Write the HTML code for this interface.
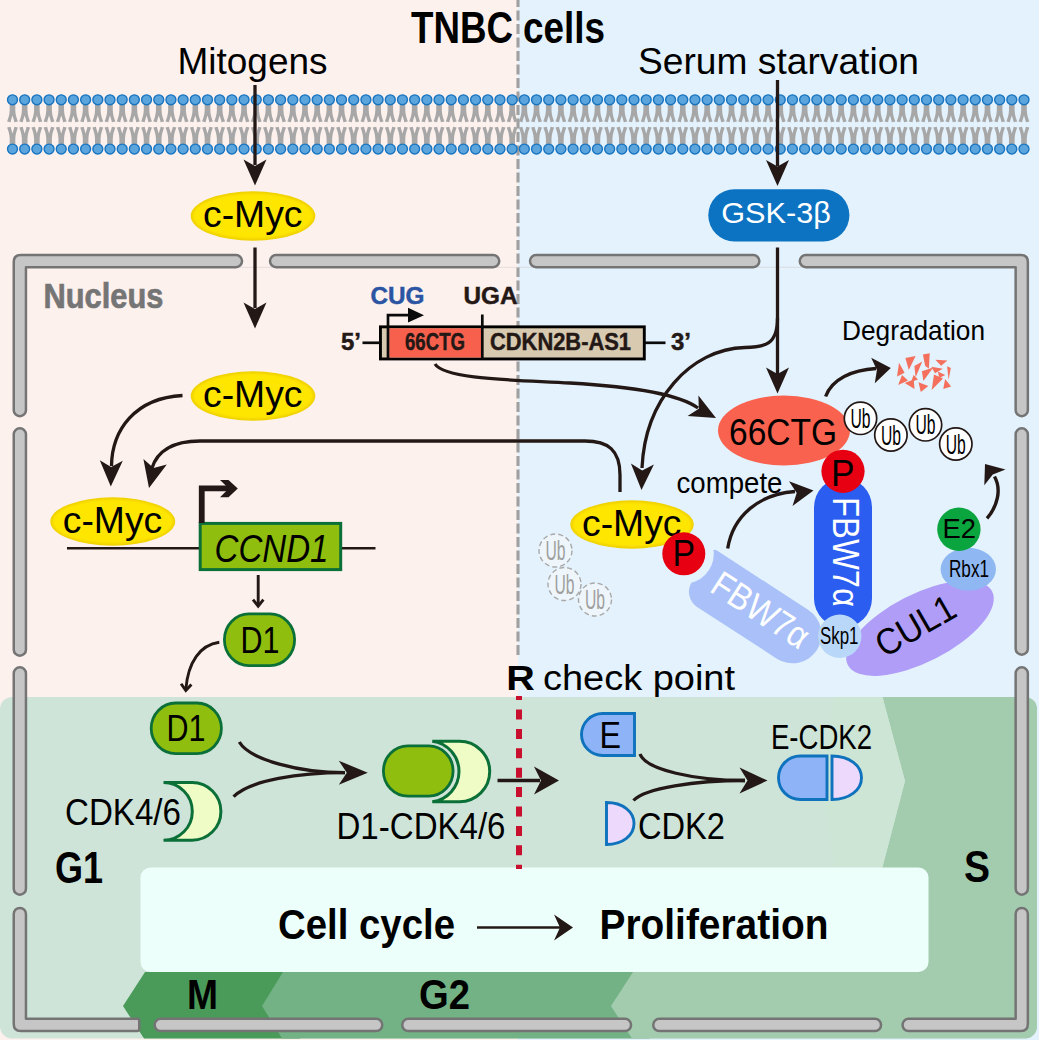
<!DOCTYPE html>
<html><head><meta charset="utf-8"><title>TNBC cells</title>
<style>html,body{margin:0;padding:0;background:#fff}svg{display:block}</style></head>
<body>
<svg width="1039" height="1040" viewBox="0 0 1039 1040" font-family="'Liberation Sans', sans-serif">
<defs>
<filter id="glow" x="-10%" y="-20%" width="120%" height="140%"><feGaussianBlur stdDeviation="1.1"/></filter>
<filter id="glow0" x="-10%" y="-20%" width="120%" height="140%"><feGaussianBlur stdDeviation="0.7"/></filter>
</defs>
<rect x="0" y="0" width="518" height="1040" fill="#fdf1ee"/>
<rect x="518" y="0" width="521" height="1040" fill="#e3f2fc"/>
<line x1="518" y1="0" x2="518" y2="655.5" stroke="#a0a0a0" stroke-width="3.1" stroke-dasharray="10 3.5" stroke-dashoffset="3"/>
<clipPath id="panel"><rect x="0" y="697" width="1037" height="341.6" rx="12"/></clipPath>
<g clip-path="url(#panel)">
<rect x="0" y="697" width="1037" height="343" fill="#cfe4d8"/>
<polygon points="145,972 300,972 300,1040 145,1040 123,1006" fill="#4a9a5a"/>
<polygon points="283,972 650,972 650,1040 283,1040 262,1006" fill="#72b285"/>
<polygon points="882.5,697 1037,697 1037,1040 633,1040 611,1006 633,972 882.5,972 882.5,867 905,781" fill="#a3cbae"/>
<polygon points="834,697 882.5,697 905,781 882.5,867 834,867 821,781" fill="#cce5d5"/>
</g>
<rect x="140.5" y="867.5" width="788" height="104.5" rx="10" fill="#edfffb"/>
<defs><path id="tl" d="M-2.8,104 H2.8 V110.5 C3,114.5 4,118 5.4,121.5 L1.9,122.2 C1.3,119.5 0.6,117.5 0,115.6 C-0.6,117.5 -1.3,119.5 -1.9,122.2 L-5.4,121.5 C-4,118 -3,114.5 -2.8,110.5 Z"/><g id="lip"><use href="#tl"/><use href="#tl" transform="translate(0,249) scale(1,-1)"/></g></defs>
<g fill="#a7a7a7"><use href="#lip" x="12.50"/><use href="#lip" x="24.69"/><use href="#lip" x="36.87"/><use href="#lip" x="49.06"/><use href="#lip" x="61.25"/><use href="#lip" x="73.43"/><use href="#lip" x="85.62"/><use href="#lip" x="97.81"/><use href="#lip" x="109.99"/><use href="#lip" x="122.18"/><use href="#lip" x="134.37"/><use href="#lip" x="146.55"/><use href="#lip" x="158.74"/><use href="#lip" x="170.93"/><use href="#lip" x="183.11"/><use href="#lip" x="195.30"/><use href="#lip" x="207.49"/><use href="#lip" x="219.67"/><use href="#lip" x="231.86"/><use href="#lip" x="244.05"/><use href="#lip" x="256.23"/><use href="#lip" x="268.42"/><use href="#lip" x="280.61"/><use href="#lip" x="292.80"/><use href="#lip" x="304.98"/><use href="#lip" x="317.17"/><use href="#lip" x="329.36"/><use href="#lip" x="341.54"/><use href="#lip" x="353.73"/><use href="#lip" x="365.92"/><use href="#lip" x="378.10"/><use href="#lip" x="390.29"/><use href="#lip" x="402.48"/><use href="#lip" x="414.66"/><use href="#lip" x="426.85"/><use href="#lip" x="439.04"/><use href="#lip" x="451.22"/><use href="#lip" x="463.41"/><use href="#lip" x="475.60"/><use href="#lip" x="487.78"/><use href="#lip" x="499.97"/><use href="#lip" x="512.16"/><use href="#lip" x="524.34"/><use href="#lip" x="536.53"/><use href="#lip" x="548.72"/><use href="#lip" x="560.90"/><use href="#lip" x="573.09"/><use href="#lip" x="585.28"/><use href="#lip" x="597.46"/><use href="#lip" x="609.65"/><use href="#lip" x="621.84"/><use href="#lip" x="634.02"/><use href="#lip" x="646.21"/><use href="#lip" x="658.40"/><use href="#lip" x="670.58"/><use href="#lip" x="682.77"/><use href="#lip" x="694.96"/><use href="#lip" x="707.14"/><use href="#lip" x="719.33"/><use href="#lip" x="731.52"/><use href="#lip" x="743.70"/><use href="#lip" x="755.89"/><use href="#lip" x="768.08"/><use href="#lip" x="780.27"/><use href="#lip" x="792.45"/><use href="#lip" x="804.64"/><use href="#lip" x="816.83"/><use href="#lip" x="829.01"/><use href="#lip" x="841.20"/><use href="#lip" x="853.39"/><use href="#lip" x="865.57"/><use href="#lip" x="877.76"/><use href="#lip" x="889.95"/><use href="#lip" x="902.13"/><use href="#lip" x="914.32"/><use href="#lip" x="926.51"/><use href="#lip" x="938.69"/><use href="#lip" x="950.88"/><use href="#lip" x="963.07"/><use href="#lip" x="975.25"/><use href="#lip" x="987.44"/><use href="#lip" x="999.63"/><use href="#lip" x="1011.81"/><use href="#lip" x="1024.00"/></g>
<g fill="#5ca4dc" stroke="#1774c0" stroke-width="1.4"><circle cx="12.50" cy="99.8" r="4.95"/><circle cx="12.50" cy="149.1" r="4.95"/><circle cx="24.69" cy="99.8" r="4.95"/><circle cx="24.69" cy="149.1" r="4.95"/><circle cx="36.87" cy="99.8" r="4.95"/><circle cx="36.87" cy="149.1" r="4.95"/><circle cx="49.06" cy="99.8" r="4.95"/><circle cx="49.06" cy="149.1" r="4.95"/><circle cx="61.25" cy="99.8" r="4.95"/><circle cx="61.25" cy="149.1" r="4.95"/><circle cx="73.43" cy="99.8" r="4.95"/><circle cx="73.43" cy="149.1" r="4.95"/><circle cx="85.62" cy="99.8" r="4.95"/><circle cx="85.62" cy="149.1" r="4.95"/><circle cx="97.81" cy="99.8" r="4.95"/><circle cx="97.81" cy="149.1" r="4.95"/><circle cx="109.99" cy="99.8" r="4.95"/><circle cx="109.99" cy="149.1" r="4.95"/><circle cx="122.18" cy="99.8" r="4.95"/><circle cx="122.18" cy="149.1" r="4.95"/><circle cx="134.37" cy="99.8" r="4.95"/><circle cx="134.37" cy="149.1" r="4.95"/><circle cx="146.55" cy="99.8" r="4.95"/><circle cx="146.55" cy="149.1" r="4.95"/><circle cx="158.74" cy="99.8" r="4.95"/><circle cx="158.74" cy="149.1" r="4.95"/><circle cx="170.93" cy="99.8" r="4.95"/><circle cx="170.93" cy="149.1" r="4.95"/><circle cx="183.11" cy="99.8" r="4.95"/><circle cx="183.11" cy="149.1" r="4.95"/><circle cx="195.30" cy="99.8" r="4.95"/><circle cx="195.30" cy="149.1" r="4.95"/><circle cx="207.49" cy="99.8" r="4.95"/><circle cx="207.49" cy="149.1" r="4.95"/><circle cx="219.67" cy="99.8" r="4.95"/><circle cx="219.67" cy="149.1" r="4.95"/><circle cx="231.86" cy="99.8" r="4.95"/><circle cx="231.86" cy="149.1" r="4.95"/><circle cx="244.05" cy="99.8" r="4.95"/><circle cx="244.05" cy="149.1" r="4.95"/><circle cx="256.23" cy="99.8" r="4.95"/><circle cx="256.23" cy="149.1" r="4.95"/><circle cx="268.42" cy="99.8" r="4.95"/><circle cx="268.42" cy="149.1" r="4.95"/><circle cx="280.61" cy="99.8" r="4.95"/><circle cx="280.61" cy="149.1" r="4.95"/><circle cx="292.80" cy="99.8" r="4.95"/><circle cx="292.80" cy="149.1" r="4.95"/><circle cx="304.98" cy="99.8" r="4.95"/><circle cx="304.98" cy="149.1" r="4.95"/><circle cx="317.17" cy="99.8" r="4.95"/><circle cx="317.17" cy="149.1" r="4.95"/><circle cx="329.36" cy="99.8" r="4.95"/><circle cx="329.36" cy="149.1" r="4.95"/><circle cx="341.54" cy="99.8" r="4.95"/><circle cx="341.54" cy="149.1" r="4.95"/><circle cx="353.73" cy="99.8" r="4.95"/><circle cx="353.73" cy="149.1" r="4.95"/><circle cx="365.92" cy="99.8" r="4.95"/><circle cx="365.92" cy="149.1" r="4.95"/><circle cx="378.10" cy="99.8" r="4.95"/><circle cx="378.10" cy="149.1" r="4.95"/><circle cx="390.29" cy="99.8" r="4.95"/><circle cx="390.29" cy="149.1" r="4.95"/><circle cx="402.48" cy="99.8" r="4.95"/><circle cx="402.48" cy="149.1" r="4.95"/><circle cx="414.66" cy="99.8" r="4.95"/><circle cx="414.66" cy="149.1" r="4.95"/><circle cx="426.85" cy="99.8" r="4.95"/><circle cx="426.85" cy="149.1" r="4.95"/><circle cx="439.04" cy="99.8" r="4.95"/><circle cx="439.04" cy="149.1" r="4.95"/><circle cx="451.22" cy="99.8" r="4.95"/><circle cx="451.22" cy="149.1" r="4.95"/><circle cx="463.41" cy="99.8" r="4.95"/><circle cx="463.41" cy="149.1" r="4.95"/><circle cx="475.60" cy="99.8" r="4.95"/><circle cx="475.60" cy="149.1" r="4.95"/><circle cx="487.78" cy="99.8" r="4.95"/><circle cx="487.78" cy="149.1" r="4.95"/><circle cx="499.97" cy="99.8" r="4.95"/><circle cx="499.97" cy="149.1" r="4.95"/><circle cx="512.16" cy="99.8" r="4.95"/><circle cx="512.16" cy="149.1" r="4.95"/><circle cx="524.34" cy="99.8" r="4.95"/><circle cx="524.34" cy="149.1" r="4.95"/><circle cx="536.53" cy="99.8" r="4.95"/><circle cx="536.53" cy="149.1" r="4.95"/><circle cx="548.72" cy="99.8" r="4.95"/><circle cx="548.72" cy="149.1" r="4.95"/><circle cx="560.90" cy="99.8" r="4.95"/><circle cx="560.90" cy="149.1" r="4.95"/><circle cx="573.09" cy="99.8" r="4.95"/><circle cx="573.09" cy="149.1" r="4.95"/><circle cx="585.28" cy="99.8" r="4.95"/><circle cx="585.28" cy="149.1" r="4.95"/><circle cx="597.46" cy="99.8" r="4.95"/><circle cx="597.46" cy="149.1" r="4.95"/><circle cx="609.65" cy="99.8" r="4.95"/><circle cx="609.65" cy="149.1" r="4.95"/><circle cx="621.84" cy="99.8" r="4.95"/><circle cx="621.84" cy="149.1" r="4.95"/><circle cx="634.02" cy="99.8" r="4.95"/><circle cx="634.02" cy="149.1" r="4.95"/><circle cx="646.21" cy="99.8" r="4.95"/><circle cx="646.21" cy="149.1" r="4.95"/><circle cx="658.40" cy="99.8" r="4.95"/><circle cx="658.40" cy="149.1" r="4.95"/><circle cx="670.58" cy="99.8" r="4.95"/><circle cx="670.58" cy="149.1" r="4.95"/><circle cx="682.77" cy="99.8" r="4.95"/><circle cx="682.77" cy="149.1" r="4.95"/><circle cx="694.96" cy="99.8" r="4.95"/><circle cx="694.96" cy="149.1" r="4.95"/><circle cx="707.14" cy="99.8" r="4.95"/><circle cx="707.14" cy="149.1" r="4.95"/><circle cx="719.33" cy="99.8" r="4.95"/><circle cx="719.33" cy="149.1" r="4.95"/><circle cx="731.52" cy="99.8" r="4.95"/><circle cx="731.52" cy="149.1" r="4.95"/><circle cx="743.70" cy="99.8" r="4.95"/><circle cx="743.70" cy="149.1" r="4.95"/><circle cx="755.89" cy="99.8" r="4.95"/><circle cx="755.89" cy="149.1" r="4.95"/><circle cx="768.08" cy="99.8" r="4.95"/><circle cx="768.08" cy="149.1" r="4.95"/><circle cx="780.27" cy="99.8" r="4.95"/><circle cx="780.27" cy="149.1" r="4.95"/><circle cx="792.45" cy="99.8" r="4.95"/><circle cx="792.45" cy="149.1" r="4.95"/><circle cx="804.64" cy="99.8" r="4.95"/><circle cx="804.64" cy="149.1" r="4.95"/><circle cx="816.83" cy="99.8" r="4.95"/><circle cx="816.83" cy="149.1" r="4.95"/><circle cx="829.01" cy="99.8" r="4.95"/><circle cx="829.01" cy="149.1" r="4.95"/><circle cx="841.20" cy="99.8" r="4.95"/><circle cx="841.20" cy="149.1" r="4.95"/><circle cx="853.39" cy="99.8" r="4.95"/><circle cx="853.39" cy="149.1" r="4.95"/><circle cx="865.57" cy="99.8" r="4.95"/><circle cx="865.57" cy="149.1" r="4.95"/><circle cx="877.76" cy="99.8" r="4.95"/><circle cx="877.76" cy="149.1" r="4.95"/><circle cx="889.95" cy="99.8" r="4.95"/><circle cx="889.95" cy="149.1" r="4.95"/><circle cx="902.13" cy="99.8" r="4.95"/><circle cx="902.13" cy="149.1" r="4.95"/><circle cx="914.32" cy="99.8" r="4.95"/><circle cx="914.32" cy="149.1" r="4.95"/><circle cx="926.51" cy="99.8" r="4.95"/><circle cx="926.51" cy="149.1" r="4.95"/><circle cx="938.69" cy="99.8" r="4.95"/><circle cx="938.69" cy="149.1" r="4.95"/><circle cx="950.88" cy="99.8" r="4.95"/><circle cx="950.88" cy="149.1" r="4.95"/><circle cx="963.07" cy="99.8" r="4.95"/><circle cx="963.07" cy="149.1" r="4.95"/><circle cx="975.25" cy="99.8" r="4.95"/><circle cx="975.25" cy="149.1" r="4.95"/><circle cx="987.44" cy="99.8" r="4.95"/><circle cx="987.44" cy="149.1" r="4.95"/><circle cx="999.63" cy="99.8" r="4.95"/><circle cx="999.63" cy="149.1" r="4.95"/><circle cx="1011.81" cy="99.8" r="4.95"/><circle cx="1011.81" cy="149.1" r="4.95"/><circle cx="1024.00" cy="99.8" r="4.95"/><circle cx="1024.00" cy="149.1" r="4.95"/></g>
<line x1="26" y1="267.3" x2="1015" y2="267.3" stroke="#d9d3d3" stroke-opacity="0.55" stroke-width="1.2"/>
<g fill="#c6c6c6" stroke="#747474" stroke-width="2.5" stroke-linejoin="round">
<path d="M13.75,410.15 V262.0 Q13.75,255.0 20.75,255.0 H235.95000000000002 A6.1,6.1 0 0 1 235.95000000000002,267.2 H25.95 V410.15 A6.1,6.1 0 0 1 13.75,410.15 Z"/>
<rect x="270.00" y="255.00" width="229.25" height="12.2" rx="6.1" />
<rect x="530.00" y="255.00" width="229.35" height="12.2" rx="6.1" />
<path d="M1027.85,410.15 V262.0 Q1027.85,255.0 1020.8499999999999,255.0 H805.85 A6.1,6.1 0 0 0 805.85,267.2 H1015.65 V410.15 A6.1,6.1 0 0 0 1027.85,410.15 Z"/>
<rect x="13.75" y="428.25" width="12.2" height="227.50" rx="6.1" />
<rect x="13.75" y="667.25" width="12.2" height="227.50" rx="6.1" />
<rect x="1015.65" y="428.25" width="12.2" height="226.50" rx="6.1" />
<rect x="1015.65" y="667.25" width="12.2" height="227.50" rx="6.1" />
<path d="M13.75,914.0500000000001 A6.1,6.1 0 0 1 25.95,914.0500000000001 V1018.85 H137.25 Q139.25,1018.85 139.25,1020.85 V1029.05 Q139.25,1031.05 137.25,1031.05 H20.75 Q13.75,1031.05 13.75,1024.05 Z"/>
<rect x="154.65" y="1018.85" width="227.60" height="12.2" rx="6.1" />
<rect x="402.25" y="1018.85" width="228.80" height="12.2" rx="6.1" />
<rect x="653.25" y="1018.85" width="227.80" height="12.2" rx="6.1" />
<path d="M1027.85,914.0500000000001 A6.1,6.1 0 0 0 1015.65,914.0500000000001 V1018.85 H908.65 A6.1,6.1 0 0 0 908.65,1031.05 H1020.8499999999999 Q1027.85,1031.05 1027.85,1024.05 Z"/>
</g>
<text x="411" y="42.5" font-size="43.68" font-weight="bold" font-style="normal" fill="#000" text-anchor="start" textLength="102" lengthAdjust="spacingAndGlyphs" >TNBC</text>
<text x="523" y="42.5" font-size="43.68" font-weight="bold" font-style="normal" fill="#000" text-anchor="start" textLength="82" lengthAdjust="spacingAndGlyphs" >cells</text>
<text x="177.5" y="74" font-size="36.92" font-weight="normal" font-style="normal" fill="#000" text-anchor="start" textLength="150" lengthAdjust="spacingAndGlyphs" >Mitogens</text>
<text x="638" y="74" font-size="36.92" font-weight="normal" font-style="normal" fill="#000" text-anchor="start" textLength="281" lengthAdjust="spacingAndGlyphs" >Serum starvation</text>
<text x="43.5" y="307.5" font-size="35.36" font-weight="bold" font-style="normal" fill="#757575" text-anchor="start" textLength="120" lengthAdjust="spacingAndGlyphs" stroke="#757575" stroke-width="0.7">Nucleus</text>
<path d="M255,85 V165" fill="none" stroke="#231815" stroke-width="3.3" />
<polygon points="255.0,185.5 243.5,159.5 255.0,166.0 266.5,159.5" fill="#231815"/>
<ellipse cx="253" cy="216" rx="62.300000000000004" ry="24.7" fill="#efd100" filter="url(#glow0)"/>
<ellipse cx="253" cy="216" rx="60.0" ry="22.4" fill="#ffe600" filter="url(#glow)"/>
<text x="203" y="227" font-size="36.92" font-weight="normal" font-style="normal" fill="#000" text-anchor="start" textLength="99.5" lengthAdjust="spacingAndGlyphs" >c-Myc</text>
<path d="M255,247.5 V308" fill="none" stroke="#231815" stroke-width="3.3" />
<polygon points="255.0,328.5 243.5,302.5 255.0,309.0 266.5,302.5" fill="#231815"/>
<ellipse cx="253" cy="396" rx="62.300000000000004" ry="24.7" fill="#efd100" filter="url(#glow0)"/>
<ellipse cx="253" cy="396" rx="60.0" ry="22.4" fill="#ffe600" filter="url(#glow)"/>
<text x="203" y="407" font-size="36.92" font-weight="normal" font-style="normal" fill="#000" text-anchor="start" textLength="99.5" lengthAdjust="spacingAndGlyphs" >c-Myc</text>
<path d="M182.5,395.5 C135,398 112,430 111.5,466" fill="none" stroke="#231815" stroke-width="3.3" />
<polygon points="110.8,486.5 99.8,460.3 111.1,467.0 122.8,460.7" fill="#231815"/>
<path d="M620,492 V475 C620,450 608,441 585,441 H200 C172,441 157,452 152,468" fill="none" stroke="#231815" stroke-width="3.3" />
<polygon points="149.0,488.0 143.4,459.0 153.6,468.0 166.8,464.4" fill="#231815"/>
<path d="M67,548.2 H375.5" fill="none" stroke="#231815" stroke-width="2.6" />
<ellipse cx="112.75" cy="521.5" rx="62.45" ry="24.2" fill="#efd100" filter="url(#glow0)"/>
<ellipse cx="112.75" cy="521.5" rx="60.15" ry="21.9" fill="#ffe600" filter="url(#glow)"/>
<text x="62.75" y="532.5" font-size="36.92" font-weight="normal" font-style="normal" fill="#000" text-anchor="start" textLength="99.5" lengthAdjust="spacingAndGlyphs" >c-Myc</text>
<rect x="200.2" y="523.4" width="140.5" height="46.2" fill="#90be0e" stroke="#0b6f38" stroke-width="3"/>
<text x="214.5" y="561.5" font-size="38.48" font-weight="normal" font-style="italic" fill="#000" text-anchor="start" textLength="114" lengthAdjust="spacingAndGlyphs" >CCND1</text>
<path d="M201.75,523 V488.4 H231" fill="none" stroke="#231815" stroke-width="5.8" stroke-linejoin="miter"/>
<polygon points="220,480 228.5,480 237.8,488.6 228.5,497.3 220,497.3 228.8,488.6" fill="#231815"/>
<path d="M258.2,575 V604.5" fill="none" stroke="#231815" stroke-width="2.9" />
<polyline points="253.0,599.7 258.2,606.2 263.4,599.7" fill="none" stroke="#231815" stroke-width="2.9" stroke-linejoin="miter"/>
<rect x="224.4" y="613.9" width="70.2" height="51.7" rx="24.5" ry="25.85" fill="#90be0e" stroke="#0b6f38" stroke-width="2.8"/>
<text x="240.5" y="652.5" font-size="36.4" font-weight="normal" font-style="normal" fill="#000" text-anchor="start" textLength="39" lengthAdjust="spacingAndGlyphs" >D1</text>
<path d="M219.3,642.3 C200,645 188,662 185.8,689.5" fill="none" stroke="#231815" stroke-width="2.9" />
<polyline points="181.1,683.7 185.8,690.5 191.4,684.4" fill="none" stroke="#231815" stroke-width="2.9" stroke-linejoin="miter"/>
<rect x="151.2" y="703" width="70.2" height="50.6" rx="24.5" ry="25.3" fill="#90be0e" stroke="#0b6f38" stroke-width="2.8"/>
<text x="166.5" y="741" font-size="36.4" font-weight="normal" font-style="normal" fill="#000" text-anchor="start" textLength="39" lengthAdjust="spacingAndGlyphs" >D1</text>
<path d="M163.5,782.6 H192.10 A28.8,28.8 0 0 1 192.10,840.2 H163.5 A28.80,28.80 0 0 0 163.5,782.6 Z" fill="#f0fcc5" stroke="#0b6f38" stroke-width="3" stroke-linejoin="miter"/>
<text x="65" y="824.5" font-size="37.44" font-weight="normal" font-style="normal" fill="#000" text-anchor="start" textLength="116" lengthAdjust="spacingAndGlyphs" >CDK4/6</text>
<text x="55" y="882.5" font-size="43.68" font-weight="bold" font-style="normal" fill="#000" text-anchor="start" textLength="48" lengthAdjust="spacingAndGlyphs" >G1</text>
<path d="M239.3,742 C250,760 300,772.7 345,772.7" fill="none" stroke="#231815" stroke-width="3.3" />
<path d="M233.6,796.7 C250,780 300,772.7 345,772.7" fill="none" stroke="#231815" stroke-width="3.3" />
<polygon points="367.8,772.7 338.8,784.7 346.8,772.7 338.8,760.7" fill="#231815"/>
<path d="M432.3,741.3 H459.50 A30.2,30.2 0 0 1 459.50,801.6999999999999 H432.3 A30.43,30.43 0 0 0 432.3,741.3 Z" fill="#f0fcc5" stroke="#0b6f38" stroke-width="3" stroke-linejoin="miter"/>
<rect x="383.4" y="745.9" width="69.7" height="50.2" rx="24.5" ry="25.1" fill="#90be0e" stroke="#0b6f38" stroke-width="2.8"/>
<text x="336.5" y="838.8" font-size="36.4" font-weight="normal" font-style="normal" fill="#000" text-anchor="start" textLength="169" lengthAdjust="spacingAndGlyphs" >D1-CDK4/6</text>
<path d="M497.5,780.5 H540" fill="none" stroke="#231815" stroke-width="3.3" />
<polygon points="559.0,780.5 534.0,794.5 541.0,780.5 534.0,766.5" fill="#231815"/>
<line x1="519" y1="696" x2="519" y2="869" stroke="#c8102e" stroke-width="6" stroke-dasharray="10 9.4" stroke-dashoffset="5.9"/>
<text x="506.3" y="690" font-size="35.88" font-weight="bold" font-style="normal" fill="#000" text-anchor="start" textLength="28.5" lengthAdjust="spacingAndGlyphs" >R</text>
<text x="543" y="690" font-size="35.88" font-weight="normal" font-style="normal" fill="#000" text-anchor="start" textLength="192" lengthAdjust="spacingAndGlyphs" >check point</text>
<path d="M634.5,713.5 H602.5 A21.0,21.0 0 0 0 602.5,755.5 H634.5 Z" fill="#8fb3f7" stroke="#0f72bd" stroke-width="2.9"/>
<text x="599.5" y="748" font-size="36.4" font-weight="normal" font-style="normal" fill="#000" text-anchor="start" textLength="21.5" lengthAdjust="spacingAndGlyphs" >E</text>
<path d="M606.5,802.5 C623.0,802.5 634.0,811.74 634.0,823.5 C634.0,835.26 623.0,844.5 606.5,844.5 Z" fill="#ecd9fb" stroke="#0f72bd" stroke-width="2.9"/>
<text x="638" y="838.8" font-size="36.4" font-weight="normal" font-style="normal" fill="#000" text-anchor="start" textLength="87" lengthAdjust="spacingAndGlyphs" >CDK2</text>
<path d="M640,754 C646,770 695,780.5 745,780.5" fill="none" stroke="#231815" stroke-width="3.3" />
<path d="M633.5,800.5 C645,788 695,780.5 745,780.5" fill="none" stroke="#231815" stroke-width="3.3" />
<polygon points="767.5,780.5 739.5,793.5 747.5,780.5 739.5,767.5" fill="#231815"/>
<path d="M827.0,756 H800.25 A21.75,21.75 0 0 0 800.25,799.5 H827.0 Z" fill="#8fb3f7" stroke="#0f72bd" stroke-width="2.9"/>
<path d="M832,756 C849.7,756 861.5,765.57 861.5,777.75 C861.5,789.93 849.7,799.5 832,799.5 Z" fill="#ecd9fb" stroke="#0f72bd" stroke-width="2.9"/>
<text x="771" y="748.8" font-size="34.84" font-weight="normal" font-style="normal" fill="#000" text-anchor="start" textLength="101" lengthAdjust="spacingAndGlyphs" >E-CDK2</text>
<text x="964" y="882" font-size="43.68" font-weight="bold" font-style="normal" fill="#000" text-anchor="start" textLength="26" lengthAdjust="spacingAndGlyphs" >S</text>
<text x="278" y="939" font-size="42.12" font-weight="bold" font-style="normal" fill="#000" text-anchor="start" textLength="177" lengthAdjust="spacingAndGlyphs" >Cell cycle</text>
<text x="599.5" y="939" font-size="42.12" font-weight="bold" font-style="normal" fill="#000" text-anchor="start" textLength="229" lengthAdjust="spacingAndGlyphs" >Proliferation</text>
<path d="M477,927.5 H560" fill="none" stroke="#231815" stroke-width="2.6" />
<polygon points="573.0,927.5 554.0,940.5 560.0,927.5 554.0,914.5" fill="#231815"/>
<text x="187" y="1009" font-size="41.6" font-weight="bold" font-style="normal" fill="#000" text-anchor="start" textLength="31" lengthAdjust="spacingAndGlyphs" >M</text>
<text x="419" y="1009" font-size="41.6" font-weight="bold" font-style="normal" fill="#000" text-anchor="start" textLength="51" lengthAdjust="spacingAndGlyphs" >G2</text>
<rect x="380.45" y="326.85" width="263.85" height="32.1" fill="#d7cab0" stroke="#000" stroke-width="2.9"/>
<rect x="389.3" y="328.3" width="92" height="29.2" fill="#f7604c"/>
<path d="M388,359 V315.2 H410" fill="none" stroke="#0a0a0a" stroke-width="2.7" />
<polygon points="424.0,315.2 408.0,322.6 408.0,315.2 408.0,307.8" fill="#0a0a0a"/>
<path d="M482.3,314.5 V359" fill="none" stroke="#0a0a0a" stroke-width="2.7" />
<path d="M362.5,342.8 H380" fill="none" stroke="#0a0a0a" stroke-width="2.7" />
<path d="M645,342.8 H665.5" fill="none" stroke="#0a0a0a" stroke-width="2.7" />
<text x="341" y="350.3" font-size="23.92" font-weight="bold" font-style="normal" fill="#231815" text-anchor="start" textLength="20" lengthAdjust="spacingAndGlyphs" stroke="#231815" stroke-width="0.45">5’</text>
<text x="671" y="350.3" font-size="23.92" font-weight="bold" font-style="normal" fill="#231815" text-anchor="start" textLength="20" lengthAdjust="spacingAndGlyphs" stroke="#231815" stroke-width="0.45">3’</text>
<text x="405" y="350.3" font-size="23.92" font-weight="bold" font-style="normal" fill="#231815" text-anchor="start" textLength="60" lengthAdjust="spacingAndGlyphs" stroke="#231815" stroke-width="0.45">66CTG</text>
<text x="490" y="350.3" font-size="23.92" font-weight="bold" font-style="normal" fill="#231815" text-anchor="start" textLength="141" lengthAdjust="spacingAndGlyphs" stroke="#231815" stroke-width="0.45">CDKN2B-AS1</text>
<text x="370.5" y="304.2" font-size="23.4" font-weight="bold" font-style="normal" fill="#2b54a3" text-anchor="start" textLength="54" lengthAdjust="spacingAndGlyphs" stroke="#2b54a3" stroke-width="0.45">CUG</text>
<text x="463.5" y="304.2" font-size="23.4" font-weight="bold" font-style="normal" fill="#231815" text-anchor="start" textLength="54" lengthAdjust="spacingAndGlyphs" stroke="#231815" stroke-width="0.45">UGA</text>
<path d="M777.5,80 V166" fill="none" stroke="#231815" stroke-width="3.3" />
<polygon points="777.5,186.0 766.0,160.0 777.5,166.5 789.0,160.0" fill="#231815"/>
<rect x="708.3" y="189.2" width="141.1" height="52.2" rx="26.1" fill="#0c73c2"/>
<text x="721.3" y="223.4" font-size="30.16" font-weight="normal" font-style="normal" fill="#fff" text-anchor="start" textLength="109.5" lengthAdjust="spacingAndGlyphs" >GSK-3β</text>
<path d="M777.5,247.5 V375" fill="none" stroke="#231815" stroke-width="3.3" />
<polygon points="777.5,393.5 766.0,367.5 777.5,374.0 789.0,367.5" fill="#231815"/>
<path d="M777.5,318 C777.5,345 765,347 745,347.5 C690,349 645,400 642,468" fill="none" stroke="#231815" stroke-width="3.3" />
<polygon points="641.5,490.0 630.9,463.6 642.2,470.5 653.9,464.4" fill="#231815"/>
<path d="M435,364 C445,380 520,380 570,383 C640,387 680,395 698,408" fill="none" stroke="#231815" stroke-width="3.3" />
<polygon points="716.0,418.0 687.6,415.9 698.8,408.8 698.4,395.6" fill="#231815"/>
<ellipse cx="784" cy="430.5" rx="66" ry="35" fill="#f9624e"/>
<text x="729" y="444.5" font-size="37.75" font-weight="normal" font-style="normal" fill="#000" text-anchor="start" textLength="108" lengthAdjust="spacingAndGlyphs" >66CTG</text>
<path d="M825.6,396.5 C832,379 852,370 876,368.5" fill="none" stroke="#231815" stroke-width="3.3" />
<polygon points="890.8,368.0 874.8,383.2 876.9,369.9 871.2,357.8" fill="#231815"/>
<text x="842" y="340" font-size="28.29" font-weight="normal" font-style="normal" fill="#000" text-anchor="start" textLength="143" lengthAdjust="spacingAndGlyphs" >Degradation</text>
<g fill="#f4705c"><polygon points="899.0,362.7 904.6,372.8 897.1,376.6"/><polygon points="905.4,358.0 915.6,356.1 908.8,370.0"/><polygon points="902.0,374.9 908.0,380.5 898.2,385.0"/><polygon points="914.4,366.0 922.3,361.5 915.6,377.3"/><polygon points="904.7,383.1 914.5,389.1 913.7,379.4"/><polygon points="922.9,354.5 929.7,353.3 928.9,368.4 925.2,366.1"/><polygon points="921.9,371.3 933.2,367.5 923.4,381.1"/><polygon points="918.5,382.3 928.3,386.0 920.8,392.0"/><polygon points="935.4,359.7 947.4,360.4 941.1,365.7"/><polygon points="931.3,366.8 942.9,368.7 935.0,373.2"/><polygon points="934.0,374.6 943.0,378.4 931.7,390.0"/><polygon points="947.1,366.2 950.8,368.1 948.6,380.1"/><polygon points="945.1,379.1 951.1,386.6 943.3,388.9"/><polygon points="913.5,374.9 918.0,379.4 911.3,381.7"/><polygon points="937.8,371.6 945.3,375.0 939.3,378.0"/></g>
<circle cx="860.5" cy="418.3" r="16.2" fill="#fff" stroke="#231815" stroke-width="1.7"/>
<text x="850.5" y="427.8" font-size="27.56" font-weight="normal" font-style="normal" fill="#000" text-anchor="start" textLength="20" lengthAdjust="spacingAndGlyphs" >Ub</text>
<circle cx="890.9" cy="435" r="16.2" fill="#fff" stroke="#231815" stroke-width="1.7"/>
<text x="880.9" y="444.5" font-size="27.56" font-weight="normal" font-style="normal" fill="#000" text-anchor="start" textLength="20" lengthAdjust="spacingAndGlyphs" >Ub</text>
<circle cx="925.5" cy="424.8" r="16.2" fill="#fff" stroke="#231815" stroke-width="1.7"/>
<text x="915.5" y="434.3" font-size="27.56" font-weight="normal" font-style="normal" fill="#000" text-anchor="start" textLength="20" lengthAdjust="spacingAndGlyphs" >Ub</text>
<circle cx="955.8" cy="444" r="16.2" fill="#fff" stroke="#231815" stroke-width="1.7"/>
<text x="945.8" y="453.5" font-size="27.56" font-weight="normal" font-style="normal" fill="#000" text-anchor="start" textLength="20" lengthAdjust="spacingAndGlyphs" >Ub</text>
<circle cx="555.5" cy="550.5" r="16.5" fill="#eef6fb" stroke="#a9a9a9" stroke-width="1.4" stroke-dasharray="5 3"/>
<text x="545.5" y="560.0" font-size="27.56" font-weight="normal" font-style="normal" fill="#9f9f9f" text-anchor="start" textLength="20" lengthAdjust="spacingAndGlyphs" >Ub</text>
<circle cx="564.5" cy="584" r="16.5" fill="#eef6fb" stroke="#a9a9a9" stroke-width="1.4" stroke-dasharray="5 3"/>
<text x="554.5" y="593.5" font-size="27.56" font-weight="normal" font-style="normal" fill="#9f9f9f" text-anchor="start" textLength="20" lengthAdjust="spacingAndGlyphs" >Ub</text>
<circle cx="595" cy="599.5" r="16.5" fill="#eef6fb" stroke="#a9a9a9" stroke-width="1.4" stroke-dasharray="5 3"/>
<text x="585" y="609.0" font-size="27.56" font-weight="normal" font-style="normal" fill="#9f9f9f" text-anchor="start" textLength="20" lengthAdjust="spacingAndGlyphs" >Ub</text>
<g transform="translate(762.4,614.7) rotate(33)">
<path d="M-73,-29 H36 A29,29 0 0 1 36,29 H-59 A18,18 0 0 1 -77,11 V-25 A4,4 0 0 1 -73,-29 Z" fill="#a9c1f8"/>
<text x="-58.5" y="9.5" font-size="36.4" font-weight="normal" font-style="normal" fill="#fff" text-anchor="start" textLength="109" lengthAdjust="spacingAndGlyphs" >FBW7α</text>
</g>
<circle cx="683.8" cy="553.8" r="30" fill="#e3f2fc"/>
<ellipse cx="632" cy="524.5" rx="61.7" ry="24.2" fill="#efd100" filter="url(#glow0)"/>
<ellipse cx="632" cy="524.5" rx="59.4" ry="21.9" fill="#ffe600" filter="url(#glow)"/>
<text x="582" y="535.5" font-size="36.92" font-weight="normal" font-style="normal" fill="#000" text-anchor="start" textLength="99.5" lengthAdjust="spacingAndGlyphs" >c-Myc</text>
<circle cx="683.8" cy="553.8" r="21.5" fill="#e60012"/>
<text x="672.5" y="566" font-size="36.4" font-weight="normal" font-style="normal" fill="#000" text-anchor="start" textLength="22.5" lengthAdjust="spacingAndGlyphs" >P</text>
<rect x="814" y="478" width="58" height="149.5" rx="29" fill="#2b5ef0"/>
<g transform="translate(833,497) rotate(90)">
<text x="0" y="0" font-size="36.4" font-weight="normal" font-style="normal" fill="#fff" text-anchor="start" textLength="110" lengthAdjust="spacingAndGlyphs" >FBW7α</text>
</g>
<ellipse cx="920" cy="628.3" rx="81" ry="34" fill="#b09df8" transform="rotate(-27 920 628.3)"/>
<g transform="translate(884.5,658.3) rotate(-30)">
<text x="0" y="0" font-size="37.02" font-weight="normal" font-style="normal" fill="#000" text-anchor="start" textLength="86" lengthAdjust="spacingAndGlyphs" >CUL1</text>
</g>
<circle cx="839.8" cy="636.3" r="21.7" fill="#b9d7f8"/>
<text x="820" y="644.3" font-size="24.23" font-weight="normal" font-style="normal" fill="#000" text-anchor="start" textLength="38.5" lengthAdjust="spacingAndGlyphs" >Skp1</text>
<ellipse cx="968.3" cy="569.2" rx="27.7" ry="21.4" fill="#8fb8f3"/>
<text x="949" y="577.2" font-size="23.4" font-weight="normal" font-style="normal" fill="#000" text-anchor="start" textLength="40" lengthAdjust="spacingAndGlyphs" >Rbx1</text>
<circle cx="958.9" cy="529.3" r="21.7" fill="#0aa53e"/>
<text x="942.5" y="538.3" font-size="27.14" font-weight="normal" font-style="normal" fill="#000" text-anchor="start" textLength="33.5" lengthAdjust="spacingAndGlyphs" >E2</text>
<circle cx="843" cy="471.3" r="21.6" fill="#e60012"/>
<text x="831" y="485.8" font-size="37.75" font-weight="normal" font-style="normal" fill="#000" text-anchor="start" textLength="23.5" lengthAdjust="spacingAndGlyphs" >P</text>
<text x="676.5" y="492.5" font-size="30.16" font-weight="normal" font-style="normal" fill="#000" text-anchor="start" textLength="106" lengthAdjust="spacingAndGlyphs" >compete</text>
<path d="M727.7,548.5 C733,515 760,494 795,491.5" fill="none" stroke="#231815" stroke-width="3.3" />
<polygon points="813.5,490.5 792.5,506.1 796.7,492.9 789.0,481.3" fill="#231815"/>
<path d="M987,518.3 C997,507 1002,490 994.5,476.5" fill="none" stroke="#231815" stroke-width="3.4" />
<polygon points="985.0,464.1 1005.5,469.4 992.8,474.5 984.3,485.2" fill="#231815"/>
</svg>
</body></html>
